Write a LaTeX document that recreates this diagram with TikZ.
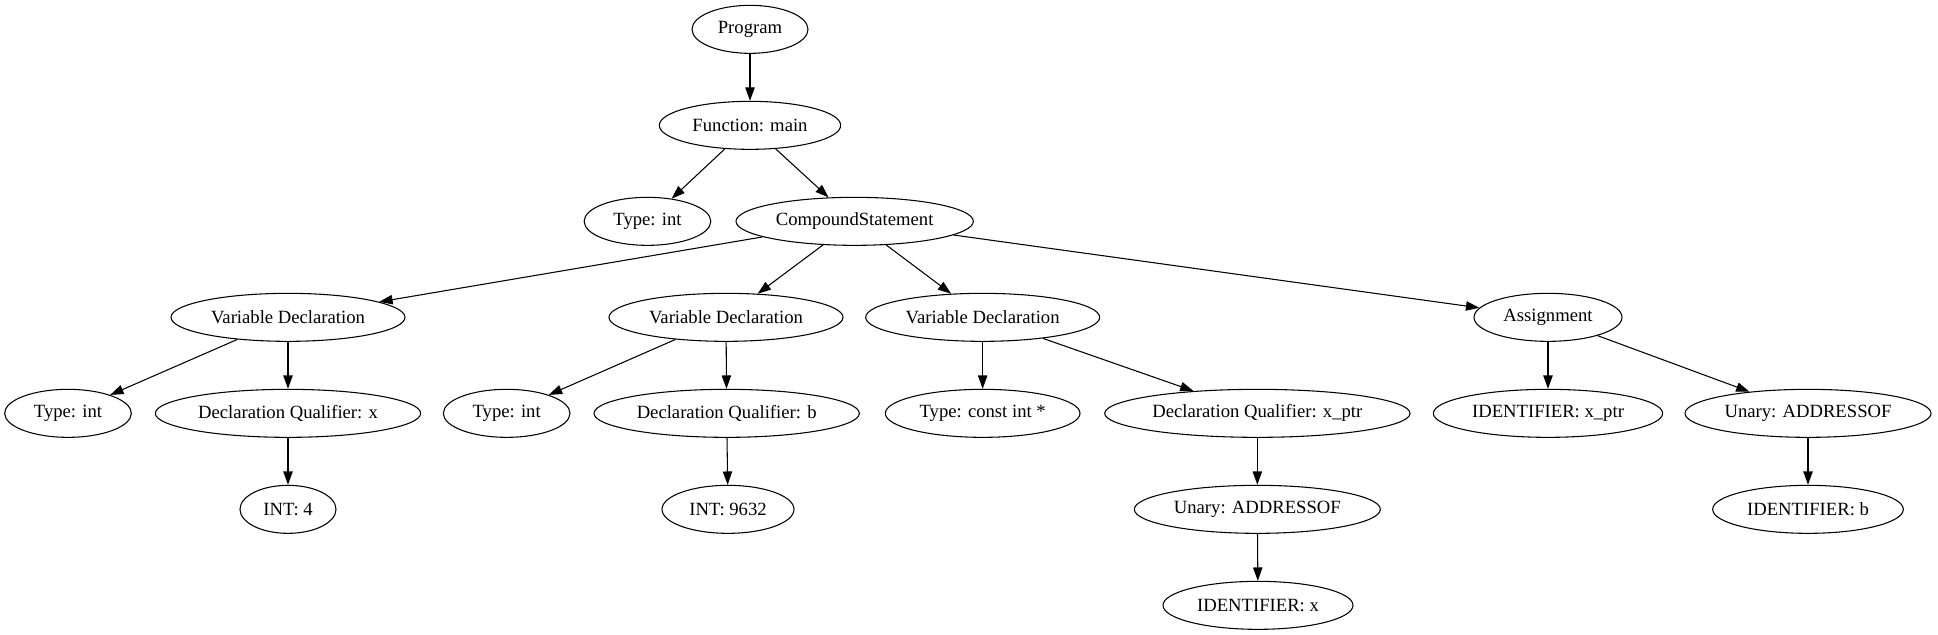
\documentclass[tikz,border=0pt]{standalone}
\usepackage{fontspec}
\setmainfont{Liberation Serif}
\usetikzlibrary{shapes.geometric,arrows.meta}
\tikzset{
  ast/.style={ellipse, draw, line width=0.8pt, minimum height=36pt, inner sep=0pt, font=\fontsize{14pt}{16pt}\selectfont},
  edge/.style={line width=0.8pt, -{Triangle[length=10pt,width=7pt]}}
}
\begin{document}
\begin{tikzpicture}[x=1pt,y=1pt]
\useasboundingbox (0,0) rectangle (1453.5,-476.25);
% row 1-2
\node[ast, minimum width=87pt]  (prog) at (562.5,-22) {Program};
\node[ast, minimum width=136pt] (func) at (562.5,-94) {Function: main};
% row 3
\node[ast, minimum width=95pt]  (ftype) at (485.6,-166) {Type: int};
\node[ast, minimum width=178pt] (comp) at (641,-166) {CompoundStatement};
% row 4
\node[ast, minimum width=175.5pt] (vd1) at (216,-238) {Variable Declaration};
\node[ast, minimum width=175.5pt] (vd2) at (544.5,-238) {Variable Declaration};
\node[ast, minimum width=175.5pt] (vd3) at (737,-238) {Variable Declaration};
\node[ast, minimum width=111pt]   (asg) at (1161,-238) {Assignment};
% row 5
\node[ast, minimum width=95pt]  (t1) at (51,-310) {Type: int};
\node[ast, minimum width=199pt] (dq1) at (216,-310) {Declaration Qualifier: x};
\node[ast, minimum width=95pt]  (t2) at (380,-310) {Type: int};
\node[ast, minimum width=199pt] (dq2) at (545,-310) {Declaration Qualifier: b};
\node[ast, minimum width=146pt] (t3) at (737,-310) {Type: const int *};
\node[ast, minimum width=229pt] (dq3) at (943,-310) {Declaration Qualifier: x\_ptr};
\node[ast, minimum width=172pt] (idp) at (1161,-310) {IDENTIFIER: x\_ptr};
\node[ast, minimum width=184.5pt] (un2) at (1356,-310) {Unary: ADDRESSOF};
% row 6
\node[ast, minimum width=72pt]  (int4) at (216,-382) {INT: 4};
\node[ast, minimum width=99pt]  (int9) at (546,-382) {INT: 9632};
\node[ast, minimum width=184.5pt] (un1) at (943,-382) {Unary: ADDRESSOF};
\node[ast, minimum width=143pt] (idb) at (1356,-382) {IDENTIFIER: b};
% row 7
\node[ast, minimum width=142.5pt] (idx) at (943.5,-454) {IDENTIFIER: x};
% edges
\draw[edge] (prog) -- (func);
\draw[edge] (func) -- (ftype);
\draw[edge] (func) -- (comp);
\draw[edge] (comp) -- (vd1);
\draw[edge] (comp) -- (vd2);
\draw[edge] (comp) -- (vd3);
\draw[edge] (comp) -- (asg);
\draw[edge] (vd1) -- (t1);
\draw[edge] (vd1) -- (dq1);
\draw[edge] (dq1) -- (int4);
\draw[edge] (vd2) -- (t2);
\draw[edge] (vd2) -- (dq2);
\draw[edge] (dq2) -- (int9);
\draw[edge] (vd3) -- (t3);
\draw[edge] (vd3) -- (dq3);
\draw[edge] (dq3) -- (un1);
\draw[edge] (un1) -- (idx);
\draw[edge] (asg) -- (idp);
\draw[edge] (asg) -- (un2);
\draw[edge] (un2) -- (idb);
\end{tikzpicture}
\end{document}
